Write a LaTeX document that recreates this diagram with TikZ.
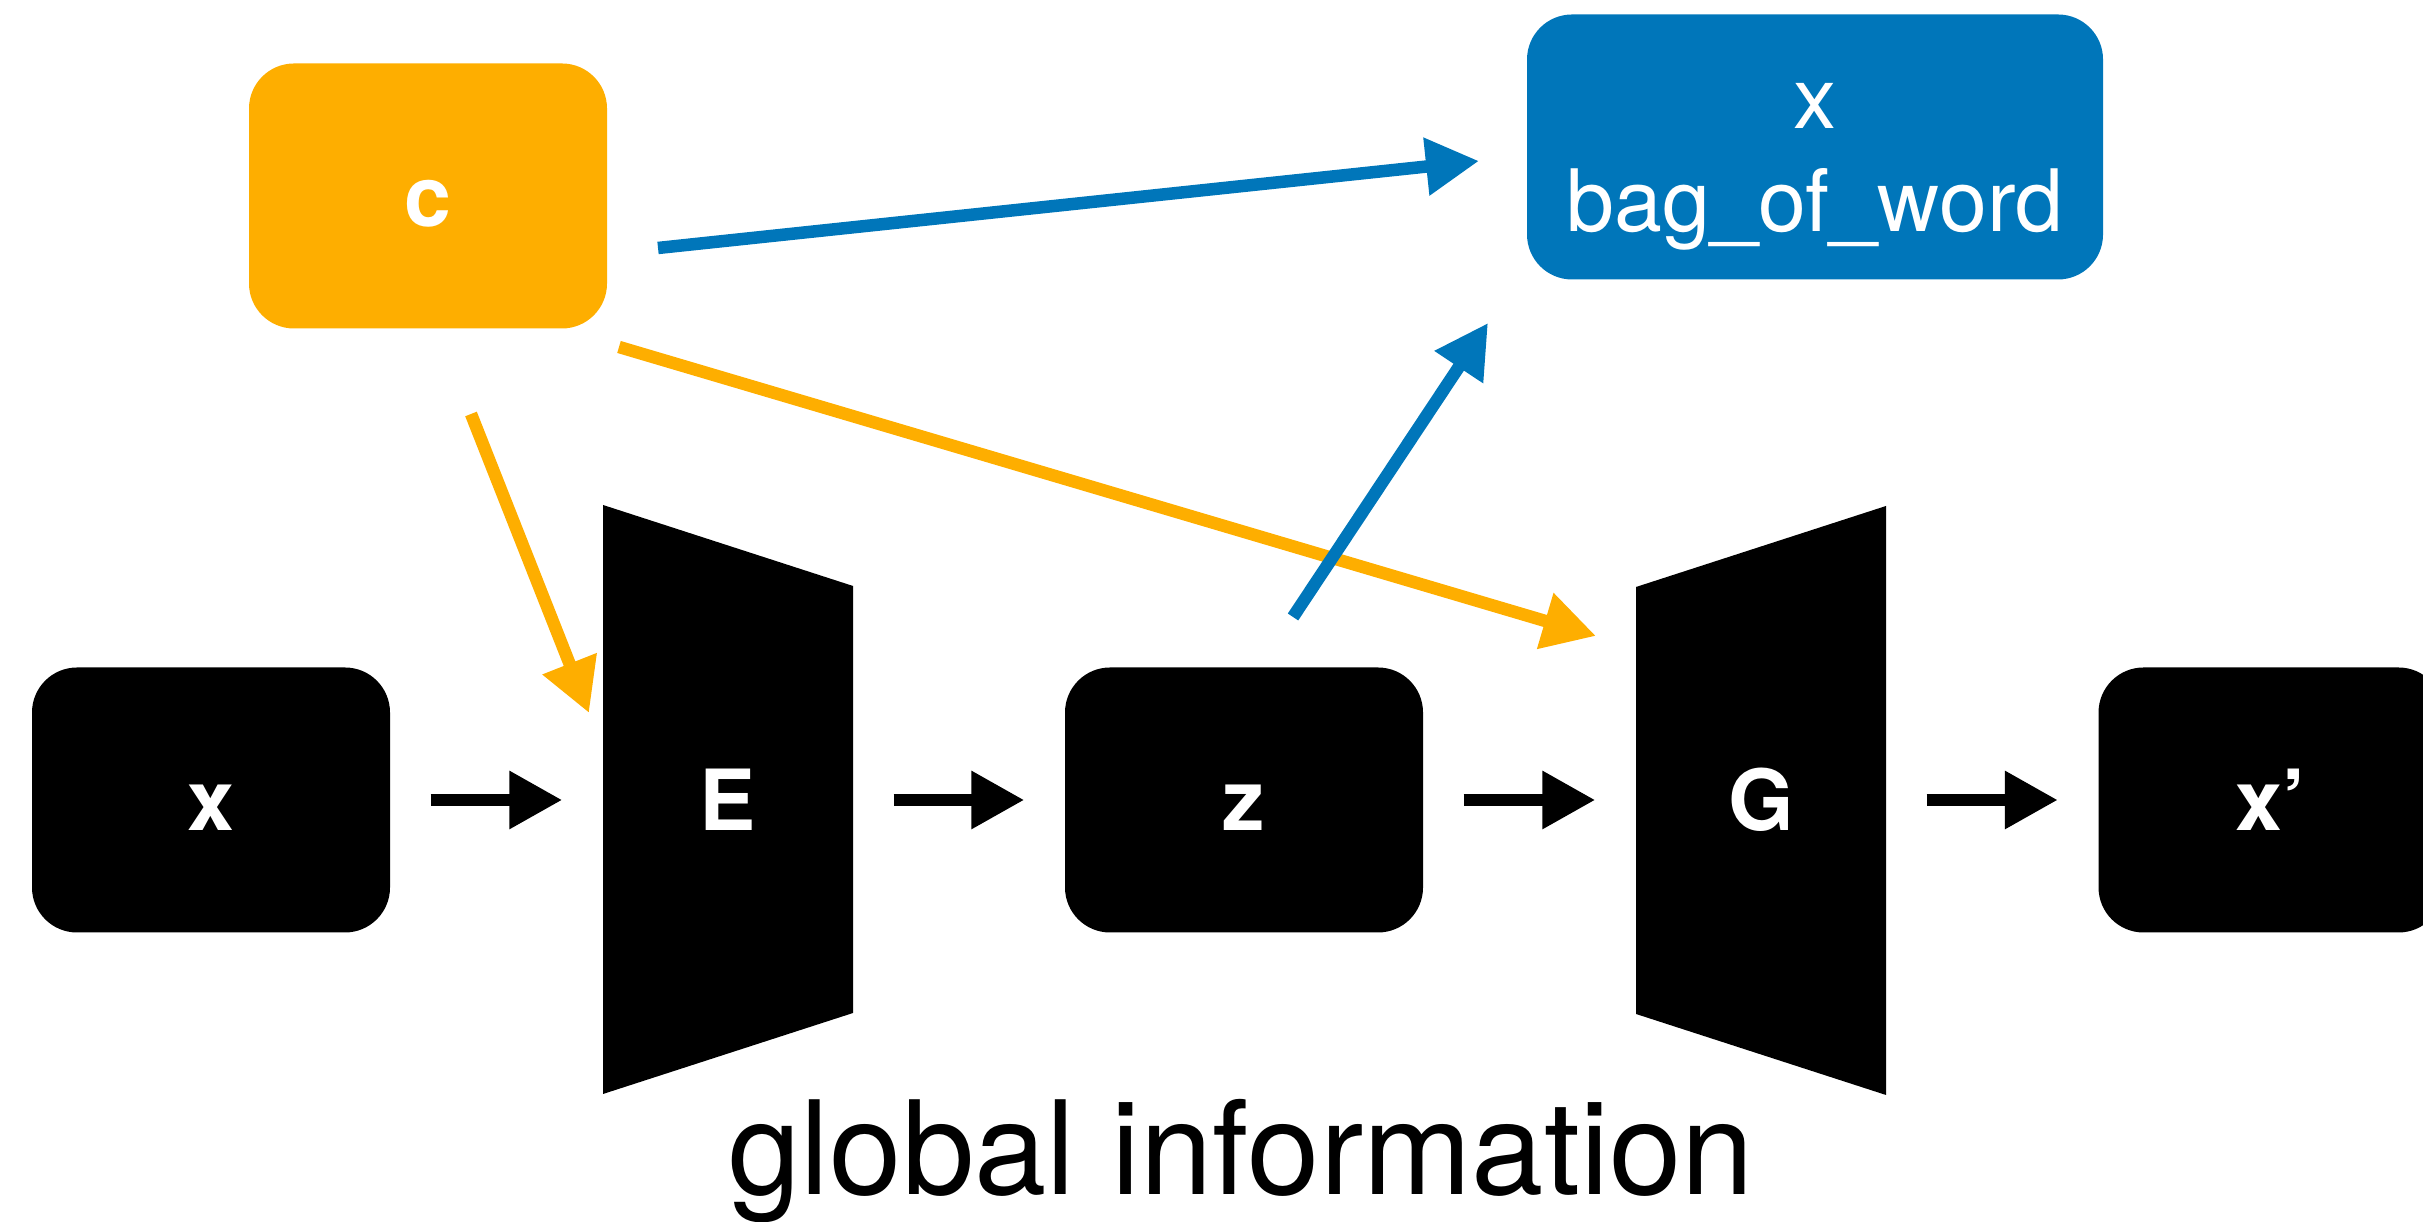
\documentclass[tikz,border=0pt]{standalone}
\usepackage{fontspec}
\setmainfont{TeX Gyre Heros}
\usetikzlibrary{arrows.meta}
\usetikzlibrary{calc}
\usetikzlibrary{positioning}

\definecolor{keyorange}{HTML}{FEAE00}
\definecolor{keyblue}{HTML}{0076BA}

\tikzset{
    block/.style={rounded corners=0.45cm, minimum width=3.58cm, minimum height=2.65cm,
        inner sep=0pt, text=white},
    boldlabel/.style={font=\fontsize{24}{29}\selectfont\bfseries, text height=0.79cm, text depth=0.18cm},
    trap/.style={boldlabel, minimum width=2.5cm, minimum height=4.27cm, inner sep=0pt, text=white},
    conn/.style={line width=0.125cm, -{Triangle[length=0.53cm,width=0.55cm]}},
    flow/.style={conn, shorten <=0.4cm, shorten >=0.4cm},
}

\begin{document}
\begin{tikzpicture}
    \useasboundingbox (0,0) rectangle (24.23,12.22);

    \coordinate (enc) at (6.03,1.28);
    \coordinate (dec) at (16.36,2.08);

    \coordinate (cbag) at (6.58,9.74);
    \coordinate (cbagtip) at (14.79,10.61);
    \coordinate (cenc) at (4.71,8.08);
    \coordinate (cenctip) at (5.89,5.09);
    \coordinate (cdec) at (6.19,8.75);
    \coordinate (cdectip) at (15.96,5.86);
    \coordinate (zbag) at (12.93,6.05);
    \coordinate (zbagtip) at (14.88,8.99);

    \fill (enc) -- ++(0,5.89) -- ++(2.5,-0.81) -- ++(0,-4.27) -- cycle;
    \fill (dec) -- ++(0,4.27) -- ++(2.5,0.81) -- ++(0,-5.89) -- cycle;

    \node[block, boldlabel, fill=black] (x) at (2.11,4.22) {x};
    \node[trap] (E) at (7.28,4.22) {E};
    \node[block, boldlabel, fill=black] (z) at (12.44,4.22) {z};
    \node[trap] (G) at (17.61,4.22) {G};
    \node[block, boldlabel, fill=black, minimum width=3.45cm] (xrec) at (22.71,4.22) {x'};

    \node[block, boldlabel, fill=keyorange] (c) at (4.28,10.26) {c};
    \node[block, fill=keyblue, minimum width=5.76cm, align=center,
        font=\fontsize{24.5}{29.5}\selectfont] (bag) at (18.15,10.75) {\rule{0pt}{0.85cm}x\\bag\_of\_word};

    \draw[flow] (x) -- (E);
    \draw[flow] (E) -- (z);
    \draw[flow] (z) -- (G);
    \draw[flow] (G) -- (xrec);

    \draw[conn, keyblue] (cbag) -- (cbagtip);
    \draw[conn, keyorange] (cenc) -- (cenctip);
    \draw[conn, keyorange] (cdec) -- (cdectip);
    \draw[conn, keyblue] (zbag) -- (zbagtip);

    \node[anchor=base, font=\fontsize{37}{44}\selectfont] (info) at (12.41,0.275) {global information};
\end{tikzpicture}
\end{document}
